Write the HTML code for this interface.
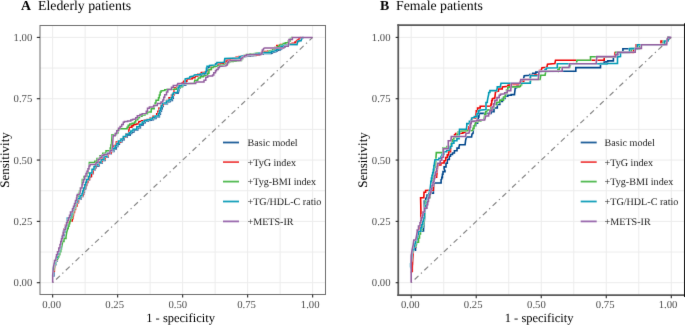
<!DOCTYPE html><html><head><meta charset="utf-8"><style>html,body{margin:0;padding:0;background:#fff;}svg{display:block;will-change:transform;text-rendering:geometricPrecision;}</style></head><body><svg width="685" height="325" viewBox="0 0 685 325" font-family='"Liberation Serif", serif'><defs><filter id="bl" x="-5" y="-5" width="695" height="335" filterUnits="userSpaceOnUse" color-interpolation-filters="sRGB"><feConvolveMatrix order="3" kernelMatrix="0.00524 0.06192 0.00524 0.06192 0.73137 0.06192 0.00524 0.06192 0.00524" divisor="1" edgeMode="duplicate" preserveAlpha="true"/></filter></defs><rect width="685" height="325" fill="#fff"/><g filter="url(#bl)"><rect x="-5" y="-5" width="695" height="335" fill="#fff"/><g stroke="#ececec" stroke-width="1"><line x1="52.65" y1="25.5" x2="52.65" y2="294.5" /><line x1="40.0" y1="282.70" x2="325.5" y2="282.70" /><line x1="85.15" y1="25.5" x2="85.15" y2="294.5" /><line x1="40.0" y1="252.04" x2="325.5" y2="252.04" /><line x1="117.65" y1="25.5" x2="117.65" y2="294.5" /><line x1="40.0" y1="221.38" x2="325.5" y2="221.38" /><line x1="150.15" y1="25.5" x2="150.15" y2="294.5" /><line x1="40.0" y1="190.71" x2="325.5" y2="190.71" /><line x1="182.65" y1="25.5" x2="182.65" y2="294.5" /><line x1="40.0" y1="160.05" x2="325.5" y2="160.05" /><line x1="215.15" y1="25.5" x2="215.15" y2="294.5" /><line x1="40.0" y1="129.39" x2="325.5" y2="129.39" /><line x1="247.65" y1="25.5" x2="247.65" y2="294.5" /><line x1="40.0" y1="98.72" x2="325.5" y2="98.72" /><line x1="280.15" y1="25.5" x2="280.15" y2="294.5" /><line x1="40.0" y1="68.06" x2="325.5" y2="68.06" /><line x1="312.65" y1="25.5" x2="312.65" y2="294.5" /><line x1="40.0" y1="37.40" x2="325.5" y2="37.40" /></g><line x1="52.65" y1="282.70" x2="312.65" y2="37.40" stroke="#808080" stroke-width="1.15" stroke-dasharray="1.3,3.4,5.3,3.4" /><g stroke="#ececec" stroke-width="1"><line x1="411.20" y1="25.125" x2="411.20" y2="295.125" /><line x1="398.25" y1="282.70" x2="684.3" y2="282.70" /><line x1="443.71" y1="25.125" x2="443.71" y2="295.125" /><line x1="398.25" y1="252.04" x2="684.3" y2="252.04" /><line x1="476.22" y1="25.125" x2="476.22" y2="295.125" /><line x1="398.25" y1="221.38" x2="684.3" y2="221.38" /><line x1="508.74" y1="25.125" x2="508.74" y2="295.125" /><line x1="398.25" y1="190.71" x2="684.3" y2="190.71" /><line x1="541.25" y1="25.125" x2="541.25" y2="295.125" /><line x1="398.25" y1="160.05" x2="684.3" y2="160.05" /><line x1="573.76" y1="25.125" x2="573.76" y2="295.125" /><line x1="398.25" y1="129.39" x2="684.3" y2="129.39" /><line x1="606.27" y1="25.125" x2="606.27" y2="295.125" /><line x1="398.25" y1="98.72" x2="684.3" y2="98.72" /><line x1="638.79" y1="25.125" x2="638.79" y2="295.125" /><line x1="398.25" y1="68.06" x2="684.3" y2="68.06" /><line x1="671.30" y1="25.125" x2="671.30" y2="295.125" /><line x1="398.25" y1="37.40" x2="684.3" y2="37.40" /></g><line x1="411.20" y1="282.70" x2="671.30" y2="37.40" stroke="#808080" stroke-width="1.15" stroke-dasharray="1.3,3.4,5.3,3.4" /><defs><path id="pA0" d="M53.80,276.80 L53.80,269.80 L54.70,266.80 L54.70,264.80 L55.70,264.80 L55.70,262.80 L55.70,261.30 L56.90,261.30 L56.90,259.80 L56.90,258.30 L58.10,258.30 L58.10,256.80 L58.10,255.30 L59.40,255.30 L59.40,253.80 L59.40,252.30 L60.40,252.30 L60.40,250.80 L60.40,249.05 L61.40,249.05 L61.40,247.30 L62.10,242.80 L62.90,238.80 L62.90,237.55 L63.65,237.55 L63.65,235.05 L64.40,235.05 L64.40,233.80 L64.40,231.80 L65.90,231.80 L65.90,229.80 L65.90,228.55 L66.90,228.55 L66.90,226.05 L67.90,226.05 L67.90,224.80 L68.20,218.70 L71.30,218.70 L71.30,216.75 L72.40,216.75 L72.40,214.80 L72.40,213.55 L73.40,213.55 L73.40,211.05 L74.40,211.05 L74.40,209.80 L74.40,208.55 L75.40,208.55 L75.40,206.05 L76.40,206.05 L76.40,204.80 L76.40,202.80 L78.40,202.80 L78.40,200.80 L78.40,199.30 L80.90,199.30 L80.90,197.80 L80.90,196.55 L82.90,196.55 L82.90,195.30 L82.90,194.18 L83.65,194.18 L83.65,191.93 L84.40,191.93 L84.40,190.80 L84.40,188.75 L85.70,188.75 L85.70,186.70 L85.70,185.48 L86.60,185.48 L86.60,183.03 L87.50,183.03 L87.50,181.80 L87.50,180.30 L89.40,180.30 L89.40,178.80 L89.40,177.20 L90.60,177.20 L90.60,175.60 L90.60,173.70 L92.90,173.70 L92.90,171.80 L92.90,170.05 L94.90,170.05 L94.90,168.30 L94.90,167.65 L96.10,167.65 L96.10,167.00 L96.10,165.90 L98.90,165.90 L98.90,164.80 L98.90,163.30 L101.90,163.30 L101.90,161.80 L101.90,160.55 L104.90,160.55 L104.90,159.30 L104.90,157.30 L107.90,157.30 L107.90,155.30 L107.90,154.05 L110.90,154.05 L110.90,152.80 L110.90,151.55 L113.90,151.55 L113.90,150.30 L113.90,149.05 L116.10,149.05 L116.10,147.80 L116.10,146.60 L117.75,146.60 L117.75,144.20 L119.40,144.20 L119.40,143.00 L119.40,141.90 L121.80,141.90 L121.80,139.70 L124.20,139.70 L124.20,138.60 L124.20,137.30 L126.90,137.30 L126.90,136.00 L126.90,135.15 L130.10,135.15 L130.10,134.30 L130.10,133.50 L131.70,133.50 L131.70,132.70 L131.70,131.90 L133.90,131.90 L133.90,131.10 L133.90,130.05 L137.70,130.05 L137.70,129.00 L137.70,127.65 L140.40,127.65 L140.40,126.30 L140.40,124.95 L143.10,124.95 L143.10,123.60 L143.10,122.80 L145.20,122.80 L145.20,122.00 L145.20,121.30 L147.90,121.30 L147.90,120.60 L150.90,120.30 L150.90,119.67 L153.40,119.67 L153.40,118.42 L155.90,118.42 L155.90,117.80 L155.90,116.80 L159.40,116.80 L159.40,115.80 L159.40,114.30 L160.40,114.30 L160.40,111.30 L161.40,111.30 L161.40,109.80 L161.40,108.67 L162.25,108.67 L162.25,106.42 L163.10,106.42 L163.10,105.30 L163.10,103.80 L167.40,103.80 L167.40,102.30 L167.40,101.67 L169.90,101.67 L169.90,100.42 L172.40,100.42 L172.40,99.80 L172.40,98.25 L173.30,98.25 L173.30,95.15 L174.20,95.15 L174.20,93.60 L178.30,93.10 L179.00,89.70 L179.00,88.35 L180.00,88.35 L180.00,87.00 L180.00,86.50 L182.70,86.50 L182.70,86.00 L182.70,85.00 L185.80,85.00 L185.80,84.00 L186.10,79.60 L188.10,79.20 L190.50,78.90 L190.80,77.50 L194.60,76.90 L195.20,75.80 L201.20,75.30 L201.20,74.90 L203.95,74.90 L203.95,74.10 L206.70,74.10 L206.70,73.70 L206.70,72.17 L207.30,72.17 L207.30,69.12 L207.90,69.12 L207.90,67.60 L207.90,66.95 L210.40,66.95 L210.40,66.30 L216.60,65.70 L216.60,64.50 L217.80,64.50 L217.80,63.30 L225.10,63.00 L225.70,59.30 L239.30,58.70 L240.50,58.10 L240.50,57.50 L242.40,57.50 L242.40,56.90 L246.90,56.30 L246.90,56.13 L249.90,56.13 L249.90,55.80 L252.90,55.80 L252.90,55.47 L255.90,55.47 L255.90,55.30 L255.90,54.88 L259.55,54.88 L259.55,54.02 L263.20,54.02 L263.20,53.60 L271.20,53.60 L271.20,52.95 L272.40,52.95 L272.40,52.30 L276.10,51.70 L276.10,51.10 L277.40,51.10 L277.40,50.50 L278.40,50.00 L280.40,49.90 L280.40,48.80 L281.80,48.80 L281.80,47.70 L281.80,47.15 L284.80,47.15 L284.80,46.60 L284.80,45.55 L288.30,45.55 L288.30,44.50 L297.10,44.40 L297.50,42.30 L297.50,41.60 L298.50,41.60 L298.50,40.90 L301.20,40.50 L301.70,38.60 L301.70,38.00 L302.60,38.00 L302.60,37.40 L303.60,37.40"/><path id="pA1" d="M53.40,272.00 L53.40,271.10 L54.40,271.10 L54.40,270.20 L54.60,266.00 L55.20,262.00 L55.20,260.25 L56.50,260.25 L56.50,258.50 L56.50,256.75 L57.80,256.75 L57.80,255.00 L57.80,253.25 L59.20,253.25 L59.20,251.50 L59.20,249.75 L60.40,249.75 L60.40,248.00 L60.40,246.50 L60.95,246.50 L60.95,243.50 L61.50,243.50 L61.50,242.00 L62.40,237.00 L62.40,235.50 L63.20,235.50 L63.20,232.50 L64.00,232.50 L64.00,231.00 L64.00,229.00 L65.50,229.00 L65.50,227.00 L65.50,225.00 L67.50,225.00 L67.50,223.00 L67.50,222.25 L70.00,222.25 L70.00,221.50 L70.00,220.95 L72.20,220.95 L72.20,220.40 L72.20,218.80 L72.85,218.80 L72.85,215.60 L73.50,215.60 L73.50,214.00 L73.50,212.50 L74.50,212.50 L74.50,209.50 L75.50,209.50 L75.50,208.00 L75.50,206.00 L77.00,206.00 L77.00,204.00 L77.00,202.00 L78.50,202.00 L78.50,200.00 L78.50,198.50 L80.50,198.50 L80.50,197.00 L80.50,195.75 L82.90,195.75 L82.90,194.50 L82.90,193.38 L83.45,193.38 L83.45,191.12 L84.00,191.12 L84.00,190.00 L84.00,187.95 L85.50,187.95 L85.50,185.90 L85.50,184.68 L86.65,184.68 L86.65,182.23 L87.80,182.23 L87.80,181.00 L87.80,179.50 L89.50,179.50 L89.50,178.00 L89.50,176.40 L91.50,176.40 L91.50,174.80 L91.50,172.90 L93.00,172.90 L93.00,171.00 L93.00,169.25 L94.60,169.25 L94.60,167.50 L94.60,166.25 L96.00,166.25 L96.00,165.00 L96.00,164.00 L99.00,164.00 L99.00,163.00 L99.00,161.85 L102.00,161.85 L102.00,160.70 L102.00,159.10 L105.00,159.10 L105.00,157.50 L105.00,156.00 L108.00,156.00 L108.00,154.50 L108.00,153.25 L111.00,153.25 L111.00,152.00 L111.00,150.80 L113.30,150.80 L113.30,149.60 L113.60,147.00 L113.60,145.40 L116.30,145.40 L116.30,143.80 L116.30,141.90 L120.60,141.90 L120.60,140.00 L120.60,139.05 L123.30,139.05 L123.30,137.15 L126.00,137.15 L126.00,136.20 L126.00,134.05 L128.70,134.05 L128.70,131.90 L129.20,128.20 L129.20,127.35 L131.90,127.35 L131.90,126.50 L131.90,125.70 L133.50,125.70 L133.50,124.90 L133.50,124.62 L135.95,124.62 L135.95,124.07 L138.40,124.07 L138.40,123.80 L138.90,121.70 L141.60,121.20 L141.60,120.65 L144.30,120.65 L144.30,120.10 L147.00,119.50 L150.00,119.20 L150.00,118.35 L153.00,118.35 L153.00,117.50 L153.00,116.25 L156.70,116.25 L156.70,115.00 L156.70,113.75 L157.85,113.75 L157.85,111.25 L159.00,111.25 L159.00,110.00 L159.00,107.90 L161.00,107.90 L161.00,105.80 L161.00,104.90 L163.00,104.90 L163.00,104.00 L163.00,103.00 L166.50,103.00 L166.50,102.00 L166.50,100.50 L169.00,100.50 L169.00,99.00 L169.00,97.75 L171.50,97.75 L171.50,96.50 L171.50,95.00 L173.90,95.00 L173.90,93.50 L174.00,89.60 L174.70,88.20 L174.70,87.70 L176.70,87.70 L176.70,87.20 L176.70,86.05 L178.80,86.05 L178.80,84.90 L178.80,83.70 L182.20,83.70 L182.20,82.50 L183.80,82.20 L183.80,81.15 L186.90,81.15 L186.90,80.10 L187.60,79.10 L192.30,78.80 L192.30,77.75 L195.00,77.75 L195.00,76.70 L195.00,75.88 L197.70,75.88 L197.70,74.22 L200.40,74.22 L200.40,73.40 L201.50,72.90 L201.50,72.60 L205.20,72.60 L205.20,72.00 L208.90,72.00 L208.90,71.70 L208.90,69.85 L210.80,69.85 L210.80,68.00 L210.80,66.45 L215.00,66.45 L215.00,64.90 L215.00,64.56 L217.75,64.56 L217.75,63.89 L220.50,63.89 L220.50,63.21 L223.25,63.21 L223.25,62.54 L226.00,62.54 L226.00,62.20 L226.00,61.30 L227.30,61.30 L227.30,60.40 L227.30,59.94 L230.23,59.94 L230.23,59.01 L233.15,59.01 L233.15,58.09 L236.08,58.09 L236.08,57.16 L239.00,57.16 L239.00,56.70 L239.00,56.40 L241.45,56.40 L241.45,55.80 L243.90,55.80 L243.90,55.50 L256.20,55.20 L259.80,54.60 L259.80,53.40 L261.70,53.40 L261.70,52.20 L261.70,51.96 L264.88,51.96 L264.88,51.49 L268.05,51.49 L268.05,51.01 L271.23,51.01 L271.23,50.54 L274.40,50.54 L274.40,50.30 L274.80,48.60 L274.80,47.55 L276.80,47.55 L276.80,46.50 L276.80,45.50 L280.50,45.50 L280.50,44.50 L283.60,44.50 L283.60,44.34 L286.45,44.34 L286.45,44.01 L289.30,44.01 L289.30,43.69 L292.15,43.69 L292.15,43.36 L295.00,43.36 L295.00,43.20 L295.00,42.10 L296.40,42.10 L296.40,41.00 L297.50,40.50 L297.50,40.00 L298.90,40.00 L298.90,39.50 L298.90,38.85 L299.90,38.85 L299.90,38.20 L300.30,37.40 L301.30,37.40"/><path id="pA2" d="M53.40,271.00 L53.40,269.50 L53.95,269.50 L53.95,266.50 L54.50,266.50 L54.50,265.00 L54.50,263.00 L55.60,263.00 L55.60,261.00 L55.60,259.50 L57.50,259.50 L57.50,258.00 L57.50,257.00 L58.80,257.00 L58.80,256.00 L58.80,254.50 L59.80,254.50 L59.80,253.00 L59.80,251.50 L60.80,251.50 L60.80,250.00 L61.60,247.00 L62.50,243.00 L62.50,241.50 L64.00,241.50 L64.00,240.00 L64.00,238.50 L66.00,238.50 L66.00,237.00 L66.80,232.00 L67.50,229.60 L67.50,228.45 L68.25,228.45 L68.25,226.15 L69.00,226.15 L69.00,225.00 L69.00,223.75 L69.75,223.75 L69.75,221.25 L70.50,221.25 L70.50,220.00 L70.50,218.00 L72.00,218.00 L72.00,216.00 L72.00,214.75 L72.75,214.75 L72.75,212.25 L73.50,212.25 L73.50,211.00 L73.50,209.75 L74.50,209.75 L74.50,207.25 L75.50,207.25 L75.50,206.00 L75.50,204.75 L76.25,204.75 L76.25,202.25 L77.00,202.25 L77.00,201.00 L77.00,199.38 L77.75,199.38 L77.75,196.12 L78.50,196.12 L78.50,194.50 L78.50,193.38 L79.50,193.38 L79.50,191.12 L80.50,191.12 L80.50,190.00 L80.50,187.95 L81.70,187.95 L81.70,185.90 L82.30,181.00 L82.30,179.50 L84.00,179.50 L84.00,178.00 L84.00,176.40 L87.00,176.40 L87.00,174.80 L87.00,172.98 L88.15,172.98 L88.15,169.33 L89.30,169.33 L89.30,167.50 L89.30,162.50 L94.80,162.50 L94.80,161.25 L97.00,161.25 L97.00,160.00 L97.00,158.50 L100.00,158.50 L100.00,157.00 L100.00,155.75 L102.80,155.75 L102.80,154.50 L102.80,153.25 L106.00,153.25 L106.00,152.00 L106.00,150.80 L110.20,150.80 L110.20,149.60 L110.20,148.07 L110.85,148.07 L110.85,145.02 L111.50,145.02 L111.50,143.50 L112.00,136.00 L112.00,134.80 L115.20,134.80 L116.30,134.60 L116.30,133.00 L117.90,133.00 L117.90,131.40 L117.90,130.05 L119.00,130.05 L119.00,128.70 L127.10,128.70 L127.10,127.35 L128.20,127.35 L128.20,126.00 L128.20,125.20 L129.80,125.20 L129.80,124.40 L129.80,124.00 L132.20,124.00 L132.20,123.20 L134.60,123.20 L134.60,122.80 L134.60,122.00 L135.70,122.00 L135.70,121.20 L135.70,119.85 L137.80,119.85 L137.80,118.50 L137.80,117.65 L139.50,117.65 L139.50,116.80 L139.50,116.15 L142.00,116.15 L142.00,115.50 L142.00,115.00 L145.00,115.00 L145.00,114.50 L145.00,113.85 L147.50,113.85 L147.50,113.20 L147.50,111.95 L151.20,111.95 L151.20,110.70 L151.20,108.85 L154.20,108.85 L154.20,107.00 L154.20,105.62 L155.10,105.62 L155.10,102.88 L156.00,102.88 L156.00,101.50 L156.00,100.25 L158.50,100.25 L158.50,99.00 L158.50,97.67 L159.33,97.67 L159.33,95.00 L160.17,95.00 L160.17,92.33 L161.00,92.33 L161.00,91.00 L164.70,90.40 L164.70,89.85 L167.20,89.85 L167.20,89.30 L176.70,89.30 L176.70,88.25 L179.40,88.25 L179.40,87.20 L179.40,86.70 L182.20,86.70 L182.20,86.20 L182.80,84.90 L183.50,84.00 L194.20,83.20 L194.70,80.80 L194.70,80.30 L197.70,80.30 L197.70,79.80 L198.40,78.40 L198.40,77.90 L200.40,77.90 L200.40,77.40 L200.40,76.70 L203.40,76.70 L203.40,76.00 L207.70,75.40 L207.70,73.20 L208.90,73.20 L208.90,71.00 L208.90,69.50 L211.40,69.50 L211.40,68.00 L211.40,67.40 L213.20,67.40 L213.20,66.80 L216.30,66.20 L217.50,65.90 L217.50,65.70 L220.33,65.70 L220.33,65.30 L223.17,65.30 L223.17,64.90 L226.00,64.90 L226.00,64.70 L226.00,63.45 L228.50,63.45 L228.50,62.20 L230.40,61.60 L230.40,61.45 L233.18,61.45 L233.18,61.15 L235.95,61.15 L235.95,60.85 L238.73,60.85 L238.73,60.55 L241.50,60.55 L241.50,60.40 L241.50,58.85 L242.70,58.85 L242.70,57.30 L242.70,56.40 L243.90,56.40 L243.90,55.50 L246.40,54.80 L246.40,54.50 L250.10,54.50 L250.10,53.90 L253.80,53.90 L253.80,53.60 L259.80,52.80 L269.10,52.20 L269.10,50.95 L272.80,50.95 L272.80,48.45 L276.50,48.45 L276.50,47.20 L278.20,46.50 L279.50,46.00 L279.50,45.10 L283.20,45.10 L283.20,44.20 L283.20,43.50 L285.30,43.50 L285.30,42.80 L288.30,42.50 L288.30,40.95 L290.30,40.95 L290.30,39.40 L290.30,38.40 L291.70,38.40 L291.70,37.40 L292.70,37.40"/><path id="pA3" d="M52.90,276.00 L52.90,269.00 L53.80,266.00 L53.80,264.00 L54.80,264.00 L54.80,262.00 L54.80,260.50 L56.00,260.50 L56.00,259.00 L56.00,257.50 L57.20,257.50 L57.20,256.00 L57.20,254.50 L58.50,254.50 L58.50,253.00 L58.50,251.50 L59.50,251.50 L59.50,250.00 L59.50,248.25 L60.50,248.25 L60.50,246.50 L61.20,242.00 L62.00,238.00 L62.00,236.75 L62.75,236.75 L62.75,234.25 L63.50,234.25 L63.50,233.00 L63.50,231.00 L65.00,231.00 L65.00,229.00 L65.00,227.75 L66.00,227.75 L66.00,225.25 L67.00,225.25 L67.00,224.00 L67.30,217.90 L70.40,217.90 L70.40,215.95 L71.50,215.95 L71.50,214.00 L71.50,212.75 L72.50,212.75 L72.50,210.25 L73.50,210.25 L73.50,209.00 L73.50,207.75 L74.50,207.75 L74.50,205.25 L75.50,205.25 L75.50,204.00 L75.50,202.00 L77.50,202.00 L77.50,200.00 L77.50,198.50 L80.00,198.50 L80.00,197.00 L80.00,195.75 L82.00,195.75 L82.00,194.50 L82.00,193.38 L82.75,193.38 L82.75,191.12 L83.50,191.12 L83.50,190.00 L83.50,187.95 L84.80,187.95 L84.80,185.90 L84.80,184.68 L85.70,184.68 L85.70,182.23 L86.60,182.23 L86.60,181.00 L86.60,179.50 L88.50,179.50 L88.50,178.00 L88.50,176.40 L89.70,176.40 L89.70,174.80 L89.70,172.90 L92.00,172.90 L92.00,171.00 L92.00,169.25 L94.00,169.25 L94.00,167.50 L94.00,166.85 L95.20,166.85 L95.20,166.20 L95.20,165.10 L98.00,165.10 L98.00,164.00 L98.00,162.50 L101.00,162.50 L101.00,161.00 L101.00,159.75 L104.00,159.75 L104.00,158.50 L104.00,156.50 L107.00,156.50 L107.00,154.50 L107.00,153.25 L110.00,153.25 L110.00,152.00 L110.00,150.75 L113.00,150.75 L113.00,149.50 L113.00,148.25 L115.20,148.25 L115.20,147.00 L115.20,145.80 L116.85,145.80 L116.85,143.40 L118.50,143.40 L118.50,142.20 L118.50,141.10 L120.90,141.10 L120.90,138.90 L123.30,138.90 L123.30,137.80 L123.30,136.50 L126.00,136.50 L126.00,135.20 L126.00,134.35 L129.20,134.35 L129.20,133.50 L129.20,132.70 L130.80,132.70 L130.80,131.90 L130.80,131.10 L133.00,131.10 L133.00,130.30 L133.00,129.25 L136.80,129.25 L136.80,128.20 L136.80,126.85 L139.50,126.85 L139.50,125.50 L139.50,124.15 L142.20,124.15 L142.20,122.80 L142.20,122.00 L144.30,122.00 L144.30,121.20 L144.30,120.50 L147.00,120.50 L147.00,119.80 L150.00,119.50 L150.00,118.88 L152.50,118.88 L152.50,117.62 L155.00,117.62 L155.00,117.00 L155.00,116.00 L158.50,116.00 L158.50,115.00 L158.50,113.50 L159.50,113.50 L159.50,110.50 L160.50,110.50 L160.50,109.00 L160.50,107.88 L161.35,107.88 L161.35,105.62 L162.20,105.62 L162.20,104.50 L162.20,103.00 L166.50,103.00 L166.50,101.50 L166.50,100.88 L169.00,100.88 L169.00,99.62 L171.50,99.62 L171.50,99.00 L171.50,97.45 L172.40,97.45 L172.40,94.35 L173.30,94.35 L173.30,92.80 L177.40,92.30 L178.10,88.90 L178.10,87.55 L179.10,87.55 L179.10,86.20 L179.10,85.70 L181.80,85.70 L181.80,85.20 L181.80,84.20 L184.90,84.20 L184.90,83.20 L185.20,78.80 L187.20,78.40 L189.60,78.10 L189.90,76.70 L193.70,76.10 L194.30,75.00 L200.30,74.50 L200.30,74.10 L203.05,74.10 L203.05,73.30 L205.80,73.30 L205.80,72.90 L205.80,71.38 L206.40,71.38 L206.40,68.32 L207.00,68.32 L207.00,66.80 L207.00,66.15 L209.50,66.15 L209.50,65.50 L215.70,64.90 L215.70,63.70 L216.90,63.70 L216.90,62.50 L224.20,62.20 L224.80,58.50 L238.40,57.90 L239.60,57.30 L239.60,56.70 L241.50,56.70 L241.50,56.10 L246.00,55.50 L246.00,55.33 L249.00,55.33 L249.00,55.00 L252.00,55.00 L252.00,54.67 L255.00,54.67 L255.00,54.50 L255.00,54.08 L258.65,54.08 L258.65,53.23 L262.30,53.23 L262.30,52.80 L270.30,52.80 L270.30,52.15 L271.50,52.15 L271.50,51.50 L275.20,50.90 L275.20,50.30 L276.50,50.30 L276.50,49.70 L277.50,49.20 L279.50,49.10 L279.50,48.00 L280.90,48.00 L280.90,46.90 L280.90,46.35 L283.90,46.35 L283.90,45.80 L283.90,45.15 L288.30,45.15 L288.30,44.50 L297.10,44.40 L297.50,42.30 L297.50,41.60 L298.50,41.60 L298.50,40.90 L301.20,40.50 L301.70,38.60 L301.70,38.00 L302.60,38.00 L302.60,37.40 L303.60,37.40"/><path id="pA4" d="M52.65,282.70 L52.65,275.00 L53.20,270.00 L53.60,266.00 L54.50,262.00 L54.50,260.50 L55.80,260.50 L55.80,259.00 L56.50,256.00 L56.50,254.75 L57.50,254.75 L57.50,253.50 L57.50,251.75 L58.80,251.75 L58.80,250.00 L58.80,248.00 L60.00,248.00 L60.00,246.00 L60.00,244.50 L60.75,244.50 L60.75,241.50 L61.50,241.50 L61.50,240.00 L61.50,238.50 L62.50,238.50 L62.50,237.00 L62.50,235.50 L63.25,235.50 L63.25,232.50 L64.00,232.50 L64.00,231.00 L64.00,229.50 L65.50,229.50 L65.50,228.00 L65.50,226.00 L66.50,226.00 L66.50,224.00 L66.50,222.75 L67.50,222.75 L67.50,220.25 L68.50,220.25 L68.50,219.00 L68.50,217.75 L69.50,217.75 L69.50,215.25 L70.50,215.25 L70.50,214.00 L70.50,212.00 L72.50,212.00 L72.50,210.00 L72.50,208.75 L73.50,208.75 L73.50,206.25 L74.50,206.25 L74.50,205.00 L74.50,203.50 L75.50,203.50 L75.50,200.50 L76.50,200.50 L76.50,199.00 L76.50,197.88 L76.95,197.88 L76.95,195.62 L77.40,195.62 L77.40,194.50 L79.80,194.20 L80.50,190.00 L80.50,188.00 L82.00,188.00 L82.00,186.00 L82.00,184.75 L82.75,184.75 L82.75,182.25 L83.50,182.25 L83.50,181.00 L83.50,179.45 L84.75,179.45 L84.75,176.35 L86.00,176.35 L86.00,174.80 L86.00,173.60 L87.00,173.60 L87.00,171.20 L88.00,171.20 L88.00,170.00 L88.00,168.75 L89.00,168.75 L89.00,167.50 L89.00,165.95 L90.00,165.95 L90.00,164.40 L96.00,164.40 L96.00,162.55 L98.00,162.55 L98.00,160.70 L98.00,159.52 L100.00,159.52 L100.00,157.17 L102.00,157.17 L102.00,156.00 L102.00,155.25 L104.00,155.25 L104.00,154.50 L107.80,154.50 L107.80,153.25 L110.00,153.25 L110.00,152.00 L110.00,150.80 L112.00,150.80 L112.00,149.60 L112.70,143.50 L113.10,136.80 L113.10,135.70 L115.20,135.70 L115.20,134.60 L115.20,133.55 L116.80,133.55 L116.80,132.50 L116.80,130.85 L118.50,130.85 L118.50,129.20 L118.50,128.15 L120.10,128.15 L120.10,127.10 L120.10,126.55 L121.70,126.55 L121.70,126.00 L121.70,124.40 L123.30,124.40 L123.30,122.80 L123.30,122.25 L124.40,122.25 L124.40,121.70 L124.40,121.42 L127.60,121.42 L127.60,120.88 L130.80,120.88 L130.80,120.60 L130.80,120.05 L132.50,120.05 L132.50,119.50 L135.70,119.00 L135.70,117.65 L137.30,117.65 L137.30,116.30 L137.30,115.75 L140.00,115.75 L140.00,115.20 L140.00,114.40 L142.20,114.40 L142.20,113.60 L146.30,113.40 L146.30,111.20 L147.50,111.20 L147.50,109.00 L147.50,108.30 L149.40,108.30 L149.40,107.60 L149.40,107.00 L153.60,107.00 L153.60,106.40 L153.60,105.45 L157.30,105.45 L157.30,104.50 L157.30,103.60 L161.00,103.60 L161.00,102.70 L161.00,102.10 L162.80,102.10 L162.80,101.50 L162.80,100.10 L163.75,100.10 L163.75,97.30 L164.70,97.30 L164.70,95.90 L164.70,94.70 L166.50,94.70 L166.50,93.50 L166.50,91.95 L167.80,91.95 L167.80,90.40 L167.80,89.45 L171.50,89.45 L171.50,88.50 L171.50,87.30 L173.30,87.30 L173.30,86.10 L173.30,85.50 L177.10,85.50 L177.10,84.90 L177.80,83.60 L195.70,83.60 L196.00,81.90 L204.00,81.90 L204.00,80.20 L205.80,80.20 L205.80,78.50 L205.80,77.25 L207.70,77.25 L207.70,76.00 L212.60,76.00 L212.60,75.10 L213.80,75.10 L213.80,74.20 L213.80,72.85 L215.50,72.85 L215.50,71.50 L215.50,70.75 L216.50,70.75 L216.50,70.00 L216.50,69.50 L218.10,69.50 L218.10,69.00 L218.10,67.75 L219.30,67.75 L219.30,66.50 L226.00,65.90 L226.00,65.00 L227.30,65.00 L227.30,64.10 L227.30,62.55 L228.50,62.55 L228.50,61.00 L231.60,60.40 L240.80,60.40 L240.80,58.85 L242.10,58.85 L242.10,57.30 L244.50,56.70 L244.50,55.75 L246.40,55.75 L246.40,54.80 L261.10,54.40 L261.10,52.92 L262.30,52.92 L262.30,49.97 L263.50,49.97 L263.50,48.50 L264.80,47.90 L283.90,48.10 L284.60,46.20 L288.30,46.20 L289.00,41.40 L289.00,39.40 L292.40,39.40 L292.40,37.40 L312.65,37.40"/><mask id="mpA0" maskUnits="userSpaceOnUse" x="0" y="0" width="685" height="325"><rect width="685" height="325" fill="#fff"/><g fill="none" stroke="#000" stroke-width="1.8" stroke-linejoin="miter"><use href="#pA1"/><use href="#pA2"/><use href="#pA3"/><use href="#pA4"/></g></mask><mask id="mpA1" maskUnits="userSpaceOnUse" x="0" y="0" width="685" height="325"><rect width="685" height="325" fill="#fff"/><g fill="none" stroke="#000" stroke-width="1.8" stroke-linejoin="miter"><use href="#pA2"/><use href="#pA3"/><use href="#pA4"/></g></mask><mask id="mpA2" maskUnits="userSpaceOnUse" x="0" y="0" width="685" height="325"><rect width="685" height="325" fill="#fff"/><g fill="none" stroke="#000" stroke-width="1.8" stroke-linejoin="miter"><use href="#pA3"/><use href="#pA4"/></g></mask><mask id="mpA3" maskUnits="userSpaceOnUse" x="0" y="0" width="685" height="325"><rect width="685" height="325" fill="#fff"/><g fill="none" stroke="#000" stroke-width="1.8" stroke-linejoin="miter"><use href="#pA4"/></g></mask></defs><g fill="none" stroke-width="1.5" stroke-linejoin="miter" stroke-linecap="butt"><use href="#pA0" stroke="#00468b" mask="url(#mpA0)"/><use href="#pA1" stroke="#ed0000" mask="url(#mpA1)"/><use href="#pA2" stroke="#42b540" mask="url(#mpA2)"/><use href="#pA3" stroke="#0099b4" mask="url(#mpA3)"/><use href="#pA4" stroke="#925e9f"/></g><defs><path id="pB0" d="M411.40,264.50 L411.40,264.00 L412.40,264.00 L412.40,263.50 L412.60,256.00 L413.00,252.00 L413.00,250.25 L415.50,250.25 L415.50,248.50 L416.30,245.00 L416.60,243.00 L416.60,241.25 L417.15,241.25 L417.15,237.75 L417.70,237.75 L417.70,236.00 L417.70,232.60 L419.50,232.60 L419.50,231.00 L423.50,231.00 L423.50,229.40 L424.10,222.90 L424.80,216.50 L424.50,212.00 L424.30,202.30 L424.30,200.98 L425.65,200.98 L425.65,198.33 L427.00,198.33 L427.00,197.00 L427.00,195.15 L430.10,195.15 L430.10,193.30 L433.40,193.30 L433.40,190.00 L434.00,183.00 L441.10,183.00 L441.10,179.70 L441.80,179.00 L441.80,177.40 L442.40,177.40 L442.40,174.20 L443.00,174.20 L443.00,172.60 L443.00,171.60 L445.00,171.60 L445.00,170.60 L444.10,168.80 L444.10,166.85 L446.00,166.85 L446.00,164.90 L446.00,163.30 L447.30,163.30 L447.30,161.70 L447.30,159.40 L449.30,159.40 L449.30,157.10 L449.30,156.15 L450.50,156.15 L450.50,155.20 L450.50,154.55 L452.50,154.55 L452.50,153.90 L452.50,152.95 L454.40,152.95 L454.40,152.00 L454.40,150.70 L457.00,150.70 L457.00,149.40 L457.00,148.10 L459.00,148.10 L459.00,146.80 L459.50,144.70 L465.10,144.70 L465.60,140.40 L466.40,137.00 L471.60,137.00 L472.00,134.00 L473.00,133.50 L473.70,127.00 L473.70,125.70 L475.65,125.70 L475.65,123.10 L477.60,123.10 L477.60,121.80 L477.60,120.20 L478.25,120.20 L478.25,117.00 L478.90,117.00 L478.90,115.40 L479.50,113.40 L491.00,113.40 L491.00,111.70 L494.00,111.70 L494.00,110.00 L494.00,108.00 L497.30,108.00 L497.30,106.00 L497.30,104.50 L499.87,104.50 L499.87,101.50 L502.43,101.50 L502.43,98.50 L505.00,98.50 L505.00,97.00 L505.00,96.25 L507.80,96.25 L507.80,95.50 L507.80,95.20 L511.15,95.20 L511.15,94.60 L514.50,94.60 L514.50,94.30 L515.20,88.20 L517.00,87.50 L517.00,85.75 L520.00,85.75 L520.00,84.00 L520.00,82.75 L521.75,82.75 L521.75,80.25 L523.50,80.25 L523.50,79.00 L524.20,75.80 L529.70,75.20 L529.70,74.58 L532.77,74.58 L532.77,73.35 L535.83,73.35 L535.83,72.12 L538.90,72.12 L538.90,71.50 L560.40,71.20 L575.80,71.20 L575.80,67.60 L600.50,67.60 L600.50,64.60 L600.50,63.67 L604.15,63.67 L604.15,61.83 L607.80,61.83 L607.80,60.90 L613.40,60.90 L613.40,57.20 L617.00,56.80 L617.00,54.60 L618.00,54.60 L618.00,52.40 L622.90,52.30 L622.90,48.70 L636.50,48.70 L636.50,44.80 L662.30,44.80 L662.30,41.00 L668.00,41.00 L668.50,37.40 L669.50,37.40"/><path id="pB1" d="M411.20,273.00 L411.20,272.00 L412.30,271.50 L412.30,267.80 L412.60,260.00 L413.20,252.00 L414.00,248.00 L414.00,247.00 L415.00,247.00 L415.00,246.00 L415.00,244.50 L416.00,244.50 L416.00,243.00 L416.00,241.75 L416.75,241.75 L416.75,239.25 L417.50,239.25 L417.50,238.00 L417.50,236.00 L418.50,236.00 L418.50,234.00 L418.50,231.70 L419.60,231.70 L419.60,229.40 L419.60,227.78 L420.25,227.78 L420.25,224.53 L420.90,224.53 L420.90,222.90 L420.90,210.00 L420.60,197.80 L423.80,197.80 L424.00,193.90 L424.00,192.20 L425.60,192.20 L425.60,190.50 L429.50,190.30 L433.40,190.30 L433.40,177.80 L434.70,177.80 L434.70,177.15 L436.60,177.15 L436.60,176.50 L437.30,170.00 L437.60,166.20 L437.60,164.90 L440.90,164.90 L440.90,163.60 L440.90,162.95 L444.10,162.95 L444.10,162.30 L444.10,160.68 L445.70,160.68 L445.70,157.43 L447.30,157.43 L447.30,155.80 L447.30,154.85 L448.60,154.85 L448.60,153.90 L448.60,151.65 L450.50,151.65 L450.50,149.40 L450.50,147.78 L451.15,147.78 L451.15,144.53 L451.80,144.53 L451.80,142.90 L451.80,140.80 L453.50,140.80 L453.50,138.70 L453.50,137.40 L454.55,137.40 L454.55,134.80 L455.60,134.80 L455.60,133.50 L460.40,133.50 L460.40,133.18 L462.85,133.18 L462.85,132.53 L465.30,132.53 L465.30,132.20 L466.00,130.50 L466.00,129.50 L469.00,129.50 L469.00,128.50 L469.00,126.85 L469.93,126.85 L469.93,123.55 L470.87,123.55 L470.87,120.25 L471.80,120.25 L471.80,118.60 L471.80,117.95 L475.70,117.95 L475.70,117.30 L476.30,112.10 L476.30,110.85 L477.60,110.85 L477.60,109.60 L477.60,107.95 L480.20,107.95 L480.20,106.30 L491.00,106.00 L491.00,104.15 L491.70,104.15 L491.70,100.45 L492.40,100.45 L492.40,98.60 L494.80,98.00 L495.50,91.80 L498.50,91.20 L498.50,89.05 L502.20,89.05 L502.20,86.90 L507.80,86.30 L507.80,85.40 L509.00,85.40 L509.00,84.50 L518.80,84.50 L518.80,83.40 L520.00,83.40 L520.00,82.30 L523.50,82.30 L524.20,79.50 L530.00,79.50 L530.90,75.80 L530.90,75.50 L534.90,75.50 L534.90,74.90 L538.90,74.90 L538.90,74.60 L539.50,71.50 L539.50,70.60 L541.40,70.60 L541.40,69.70 L542.00,67.80 L546.90,67.20 L547.50,64.20 L554.90,63.60 L555.50,60.20 L604.20,60.20 L604.20,57.20 L614.50,56.80 L615.00,52.50 L633.50,52.50 L633.50,48.70 L636.30,48.70 L636.30,44.80 L661.00,44.80 L661.00,41.00 L667.00,41.00 L667.00,39.20 L668.00,39.20 L668.00,37.40 L669.00,37.40"/><path id="pB2" d="M411.20,262.00 L411.50,256.00 L411.50,254.75 L412.05,254.75 L412.05,252.25 L412.60,252.25 L412.60,251.00 L412.60,249.25 L414.00,249.25 L414.00,247.50 L414.00,246.00 L416.00,246.00 L416.00,244.50 L416.00,242.25 L418.50,242.25 L418.50,240.00 L418.50,238.00 L419.50,238.00 L419.50,236.00 L419.50,234.00 L420.50,234.00 L420.50,232.00 L420.50,230.00 L422.00,230.00 L422.00,228.00 L422.00,226.72 L422.75,226.72 L422.75,224.18 L423.50,224.18 L423.50,222.90 L424.30,218.00 L425.00,212.00 L425.60,203.60 L425.60,201.30 L428.00,201.30 L428.00,199.00 L428.00,197.40 L430.10,197.40 L430.10,195.80 L431.00,191.00 L431.00,189.25 L431.75,189.25 L431.75,185.75 L432.50,185.75 L432.50,184.00 L433.40,175.20 L433.60,172.00 L433.60,170.38 L434.30,170.38 L434.30,167.15 L435.00,167.15 L435.00,163.92 L435.70,163.92 L435.70,162.30 L436.30,152.60 L442.80,152.60 L442.80,148.70 L442.80,148.10 L447.00,148.10 L447.00,147.50 L447.00,146.50 L451.20,146.50 L451.20,145.50 L451.20,143.55 L452.50,143.55 L452.50,141.60 L452.50,139.70 L453.80,139.70 L453.80,137.80 L453.80,137.15 L457.00,137.15 L457.00,136.50 L457.00,134.55 L458.30,134.55 L458.30,132.60 L458.30,131.80 L460.40,131.80 L460.40,131.00 L472.50,130.50 L473.00,129.60 L473.00,128.30 L474.00,128.30 L474.00,125.70 L475.00,125.70 L475.00,124.40 L475.70,122.50 L475.70,121.85 L477.60,121.85 L477.60,121.20 L477.60,120.88 L480.80,120.88 L480.80,120.22 L484.00,120.22 L484.00,119.90 L484.70,115.40 L484.70,114.10 L485.70,114.10 L485.70,111.50 L486.70,111.50 L486.70,110.20 L491.00,109.60 L491.00,107.80 L494.00,107.80 L494.00,106.00 L494.00,104.45 L496.70,104.45 L496.70,102.90 L496.70,102.30 L499.80,102.30 L499.80,101.70 L499.80,100.15 L503.50,100.15 L503.50,98.60 L503.50,97.05 L505.30,97.05 L505.30,95.50 L505.30,93.67 L506.55,93.67 L506.55,90.03 L507.80,90.03 L507.80,88.20 L507.80,87.55 L509.00,87.55 L509.00,86.90 L519.50,86.90 L520.50,86.30 L520.50,84.75 L521.70,84.75 L521.70,83.20 L530.30,82.60 L530.90,79.50 L540.00,79.50 L540.80,75.20 L545.10,75.20 L545.70,71.50 L557.40,70.80 L557.90,71.20 L557.90,69.35 L559.20,69.35 L559.20,67.50 L569.60,67.50 L570.20,64.50 L576.40,63.80 L577.00,60.20 L590.50,60.20 L590.50,56.80 L615.80,56.60 L615.80,52.30 L631.20,52.30 L631.20,48.60 L639.50,48.60 L639.50,44.80 L663.50,44.80 L663.50,41.00 L667.00,41.00 L667.00,39.20 L668.00,39.20 L668.00,37.40 L669.00,37.40"/><path id="pB3" d="M411.20,269.00 L411.00,268.00 L410.60,267.00 L410.60,263.50 L411.20,262.00 L411.80,256.00 L412.50,252.00 L412.50,249.75 L414.00,249.75 L414.00,247.50 L414.00,246.12 L414.75,246.12 L414.75,243.38 L415.50,243.38 L415.50,242.00 L415.50,240.00 L417.00,240.00 L417.00,238.00 L417.00,236.75 L417.75,236.75 L417.75,234.25 L418.50,234.25 L418.50,233.00 L418.50,231.20 L420.90,231.20 L420.90,229.40 L420.90,227.78 L421.85,227.78 L421.85,224.53 L422.80,224.53 L422.80,222.90 L422.80,221.30 L423.45,221.30 L423.45,218.10 L424.10,218.10 L424.10,216.50 L424.80,212.00 L425.00,210.00 L425.00,208.50 L425.75,208.50 L425.75,205.50 L426.50,205.50 L426.50,204.00 L426.50,202.45 L427.35,202.45 L427.35,199.35 L428.20,199.35 L428.20,197.80 L428.20,196.40 L428.83,196.40 L428.83,193.60 L429.47,193.60 L429.47,190.80 L430.10,190.80 L430.10,189.40 L430.80,183.00 L430.80,181.38 L431.40,181.38 L431.40,178.12 L432.00,178.12 L432.00,176.50 L432.00,175.20 L432.70,175.20 L432.70,172.60 L433.40,172.60 L433.40,171.30 L433.40,169.38 L433.90,169.38 L433.90,165.52 L434.40,165.52 L434.40,163.60 L435.00,159.70 L438.90,159.70 L438.90,158.40 L440.90,158.40 L440.90,157.10 L440.90,156.45 L442.10,156.45 L442.10,155.80 L442.10,154.15 L444.00,154.15 L444.00,152.50 L444.00,151.72 L446.65,151.72 L446.65,150.18 L449.30,150.18 L449.30,149.40 L449.30,148.10 L450.50,148.10 L450.50,146.80 L450.50,146.20 L451.80,146.20 L451.80,145.60 L451.80,143.20 L453.90,143.20 L453.90,140.80 L456.90,140.80 L456.90,138.65 L459.10,138.65 L459.10,136.50 L459.50,129.20 L466.40,129.20 L466.80,125.80 L466.80,123.60 L469.40,123.60 L469.40,121.40 L471.60,121.40 L471.60,118.00 L474.40,117.30 L474.40,116.65 L477.00,116.65 L477.00,116.00 L477.00,113.75 L478.30,113.75 L478.30,111.50 L478.30,110.85 L479.50,110.85 L479.50,110.20 L486.00,109.60 L486.00,103.80 L486.00,102.50 L487.30,102.50 L487.30,101.20 L488.00,97.30 L488.70,94.30 L488.70,92.45 L489.90,92.45 L489.90,90.60 L496.70,90.60 L497.30,87.50 L497.30,86.90 L500.40,86.90 L500.40,86.30 L501.00,83.20 L530.30,83.20 L530.30,75.80 L538.90,75.80 L538.90,71.50 L545.00,71.00 L545.00,69.50 L546.30,69.50 L546.30,68.00 L557.30,67.80 L557.30,63.80 L596.00,63.80 L607.20,64.00 L608.00,63.50 L617.50,63.50 L617.50,57.00 L620.50,56.50 L620.50,52.50 L629.50,52.50 L629.50,48.60 L637.50,48.60 L637.50,44.80 L664.40,44.80 L664.40,41.00 L668.00,41.00 L668.50,37.40 L669.50,37.40"/><path id="pB4" d="M411.20,282.70 L411.20,256.00 L411.80,252.00 L412.40,248.70 L413.20,244.80 L413.80,240.00 L415.70,240.00 L416.40,236.50 L417.20,232.00 L417.20,230.00 L418.50,230.00 L418.50,228.00 L418.50,226.00 L420.00,226.00 L420.00,224.00 L420.00,222.75 L420.75,222.75 L420.75,220.25 L421.50,220.25 L421.50,219.00 L421.50,217.75 L422.25,217.75 L422.25,215.25 L423.00,215.25 L423.00,214.00 L423.00,212.00 L424.50,212.00 L424.50,210.00 L424.50,208.10 L426.90,208.10 L426.90,206.20 L426.90,204.65 L427.70,204.65 L427.70,201.55 L428.50,201.55 L428.50,200.00 L428.50,197.90 L429.50,197.90 L429.50,195.80 L429.50,194.60 L430.25,194.60 L430.25,192.20 L431.00,192.20 L431.00,191.00 L431.00,188.90 L432.00,188.90 L432.00,186.80 L432.00,185.18 L433.00,185.18 L433.00,181.93 L434.00,181.93 L434.00,180.30 L434.00,178.70 L434.65,178.70 L434.65,175.50 L435.30,175.50 L435.30,173.90 L435.30,171.95 L436.50,171.95 L436.50,170.00 L436.50,168.72 L437.05,168.72 L437.05,166.18 L437.60,166.18 L437.60,164.90 L437.60,163.30 L440.20,163.30 L440.20,161.70 L440.20,160.22 L441.80,160.22 L441.80,157.28 L443.40,157.28 L443.40,155.80 L443.40,148.70 L448.30,148.70 L448.30,140.80 L450.90,140.80 L451.30,136.50 L465.60,136.50 L466.00,133.50 L469.00,133.00 L469.90,129.20 L469.90,127.25 L470.55,127.25 L470.55,123.35 L471.20,123.35 L471.20,121.40 L474.00,121.40 L474.00,121.05 L476.75,121.05 L476.75,120.35 L479.50,120.35 L479.50,120.00 L484.70,119.90 L485.40,117.30 L485.40,116.00 L488.60,116.00 L488.60,114.70 L488.60,113.75 L489.90,113.75 L489.90,112.80 L489.90,110.40 L492.00,110.40 L492.00,108.00 L492.00,107.00 L493.60,107.00 L493.60,106.00 L493.60,103.85 L494.80,103.85 L494.80,101.70 L494.80,100.33 L497.00,100.33 L497.00,97.58 L499.20,97.58 L499.20,96.20 L499.20,95.25 L500.40,95.25 L500.40,94.30 L504.70,93.70 L504.70,92.75 L507.20,92.75 L507.20,91.80 L507.20,90.60 L510.80,90.60 L510.80,89.40 L511.50,83.20 L520.10,83.20 L520.70,79.50 L538.30,79.50 L538.90,72.00 L539.50,71.30 L562.20,71.30 L562.20,67.50 L569.00,67.50 L569.60,63.80 L596.20,63.80 L596.80,56.60 L615.80,56.60 L615.80,54.50 L617.50,54.50 L617.50,52.40 L635.20,52.30 L635.40,48.40 L641.40,48.40 L641.40,44.80 L666.70,44.80 L667.20,39.20 L668.10,37.40 L671.30,37.40"/><mask id="mpB0" maskUnits="userSpaceOnUse" x="0" y="0" width="685" height="325"><rect width="685" height="325" fill="#fff"/><g fill="none" stroke="#000" stroke-width="1.9000000000000001" stroke-linejoin="miter"><use href="#pB1"/><use href="#pB2"/><use href="#pB3"/><use href="#pB4"/></g></mask><mask id="mpB1" maskUnits="userSpaceOnUse" x="0" y="0" width="685" height="325"><rect width="685" height="325" fill="#fff"/><g fill="none" stroke="#000" stroke-width="1.9000000000000001" stroke-linejoin="miter"><use href="#pB2"/><use href="#pB3"/><use href="#pB4"/></g></mask><mask id="mpB2" maskUnits="userSpaceOnUse" x="0" y="0" width="685" height="325"><rect width="685" height="325" fill="#fff"/><g fill="none" stroke="#000" stroke-width="1.9000000000000001" stroke-linejoin="miter"><use href="#pB3"/><use href="#pB4"/></g></mask><mask id="mpB3" maskUnits="userSpaceOnUse" x="0" y="0" width="685" height="325"><rect width="685" height="325" fill="#fff"/><g fill="none" stroke="#000" stroke-width="1.9000000000000001" stroke-linejoin="miter"><use href="#pB4"/></g></mask></defs><g fill="none" stroke-width="1.6" stroke-linejoin="miter" stroke-linecap="butt"><use href="#pB0" stroke="#00468b" mask="url(#mpB0)"/><use href="#pB1" stroke="#ed0000" mask="url(#mpB1)"/><use href="#pB2" stroke="#42b540" mask="url(#mpB2)"/><use href="#pB3" stroke="#0099b4" mask="url(#mpB3)"/><use href="#pB4" stroke="#925e9f"/></g><rect x="40.0" y="25.5" width="285.50" height="269.00" fill="none" stroke="#6e6e6e" stroke-width="1.0" /><g stroke="#2a2a2a" stroke-width="1.1"><line x1="52.65" y1="294.5" x2="52.65" y2="297.5" /><line x1="36.8" y1="282.70" x2="40.0" y2="282.70" /><line x1="117.65" y1="294.5" x2="117.65" y2="297.5" /><line x1="36.8" y1="221.38" x2="40.0" y2="221.38" /><line x1="182.65" y1="294.5" x2="182.65" y2="297.5" /><line x1="36.8" y1="160.05" x2="40.0" y2="160.05" /><line x1="247.65" y1="294.5" x2="247.65" y2="297.5" /><line x1="36.8" y1="98.72" x2="40.0" y2="98.72" /><line x1="312.65" y1="294.5" x2="312.65" y2="297.5" /><line x1="36.8" y1="37.40" x2="40.0" y2="37.40" /></g><g fill="none" stroke-linecap="square"><line x1="398.25" y1="25.125" x2="684" y2="25.125" stroke="#585858" stroke-width="1.75"/><line x1="398.25" y1="25.125" x2="398.25" y2="295.125" stroke="#585858" stroke-width="1.75"/><line x1="398.25" y1="295.125" x2="684" y2="295.125" stroke="#585858" stroke-width="1.75"/><line x1="685.2" y1="24.375" x2="685.2" y2="295.875" stroke="#000" stroke-width="2.2"/></g><g stroke="#2a2a2a" stroke-width="1.1"><line x1="411.20" y1="295.125" x2="411.20" y2="298.125" /><line x1="395.65" y1="282.70" x2="398.25" y2="282.70" /><line x1="476.22" y1="295.125" x2="476.22" y2="298.125" /><line x1="395.65" y1="221.38" x2="398.25" y2="221.38" /><line x1="541.25" y1="295.125" x2="541.25" y2="298.125" /><line x1="395.65" y1="160.05" x2="398.25" y2="160.05" /><line x1="606.27" y1="295.125" x2="606.27" y2="298.125" /><line x1="395.65" y1="98.72" x2="398.25" y2="98.72" /><line x1="671.30" y1="295.125" x2="671.30" y2="298.125" /><line x1="395.65" y1="37.40" x2="398.25" y2="37.40" /></g><text x="32.3" y="286.30" font-size="10.7" fill="#4d4d4d" text-anchor="end">0.00</text><text x="32.3" y="224.97" font-size="10.7" fill="#4d4d4d" text-anchor="end">0.25</text><text x="32.3" y="163.65" font-size="10.7" fill="#4d4d4d" text-anchor="end">0.50</text><text x="32.3" y="102.32" font-size="10.7" fill="#4d4d4d" text-anchor="end">0.75</text><text x="32.3" y="41.00" font-size="10.7" fill="#4d4d4d" text-anchor="end">1.00</text><text x="390.5" y="286.30" font-size="10.7" fill="#4d4d4d" text-anchor="end">0.00</text><text x="390.5" y="224.97" font-size="10.7" fill="#4d4d4d" text-anchor="end">0.25</text><text x="390.5" y="163.65" font-size="10.7" fill="#4d4d4d" text-anchor="end">0.50</text><text x="390.5" y="102.32" font-size="10.7" fill="#4d4d4d" text-anchor="end">0.75</text><text x="390.5" y="41.00" font-size="10.7" fill="#4d4d4d" text-anchor="end">1.00</text><text x="51.7" y="307.8" font-size="10.7" fill="#4d4d4d" text-anchor="middle">0.00</text><text x="114.7" y="307.8" font-size="10.7" fill="#4d4d4d" text-anchor="middle">0.25</text><text x="177.8" y="307.8" font-size="10.7" fill="#4d4d4d" text-anchor="middle">0.50</text><text x="246.6" y="307.8" font-size="10.7" fill="#4d4d4d" text-anchor="middle">0.75</text><text x="310.2" y="307.8" font-size="10.7" fill="#4d4d4d" text-anchor="middle">1.00</text><text x="410.3" y="307.8" font-size="10.7" fill="#4d4d4d" text-anchor="middle">0.00</text><text x="473.2" y="307.8" font-size="10.7" fill="#4d4d4d" text-anchor="middle">0.25</text><text x="536.4" y="307.8" font-size="10.7" fill="#4d4d4d" text-anchor="middle">0.50</text><text x="605.2" y="307.8" font-size="10.7" fill="#4d4d4d" text-anchor="middle">0.75</text><text x="668.1" y="307.8" font-size="10.7" fill="#4d4d4d" text-anchor="middle">1.00</text><text x="180.6" y="322" font-size="12.5" fill="#000" text-anchor="middle">1 - specificity</text><text x="539.1" y="322" font-size="12.5" fill="#000" text-anchor="middle">1 - specificity</text><text transform="translate(8.5,160) rotate(-90)" font-size="13" fill="#000" text-anchor="middle">Sensitivity</text><text transform="translate(367.1,160) rotate(-90)" font-size="13" fill="#000" text-anchor="middle">Sensitivity</text><text x="21" y="9.6" font-size="13.8" font-weight="bold" fill="#000">A</text><text x="38" y="9.6" font-size="13.8" fill="#000">Elederly patients</text><text x="380" y="9.6" font-size="13.8" font-weight="bold" fill="#000">B</text><text x="396" y="9.6" font-size="13.8" fill="#000">Female patients</text><line x1="223" y1="142.5" x2="239" y2="142.5" stroke="#1f5f9a" stroke-width="1.8" /><text x="247.5" y="146.0" font-size="10.1" fill="#1a1a1a">Basic model</text><line x1="223" y1="162.1" x2="239" y2="162.1" stroke="#f04848" stroke-width="1.8" /><text x="247.5" y="165.6" font-size="10.1" fill="#1a1a1a">+TyG index</text><line x1="223" y1="181.6" x2="239" y2="181.6" stroke="#52ba52" stroke-width="1.8" /><text x="247.5" y="185.1" font-size="10.1" fill="#1a1a1a">+Tyg-BMI index</text><line x1="223" y1="201.5" x2="239" y2="201.5" stroke="#15a0ba" stroke-width="1.8" /><text x="247.5" y="205.0" font-size="10.1" fill="#1a1a1a">+TG/HDL-C ratio</text><line x1="223" y1="221.4" x2="239" y2="221.4" stroke="#9a6aae" stroke-width="1.8" /><text x="247.5" y="224.9" font-size="10.1" fill="#1a1a1a">+METS-IR</text><line x1="580.7" y1="142.5" x2="596.7" y2="142.5" stroke="#1f5f9a" stroke-width="1.8" /><text x="604.6" y="146.0" font-size="10.1" fill="#1a1a1a">Basic model</text><line x1="580.7" y1="162.1" x2="596.7" y2="162.1" stroke="#f04848" stroke-width="1.8" /><text x="604.6" y="165.6" font-size="10.1" fill="#1a1a1a">+TyG index</text><line x1="580.7" y1="181.6" x2="596.7" y2="181.6" stroke="#52ba52" stroke-width="1.8" /><text x="604.6" y="185.1" font-size="10.1" fill="#1a1a1a">+Tyg-BMI index</text><line x1="580.7" y1="201.5" x2="596.7" y2="201.5" stroke="#15a0ba" stroke-width="1.8" /><text x="604.6" y="205.0" font-size="10.1" fill="#1a1a1a">+TG/HDL-C ratio</text><line x1="580.7" y1="221.4" x2="596.7" y2="221.4" stroke="#9a6aae" stroke-width="1.8" /><text x="604.6" y="224.9" font-size="10.1" fill="#1a1a1a">+METS-IR</text></g></svg></body></html>
